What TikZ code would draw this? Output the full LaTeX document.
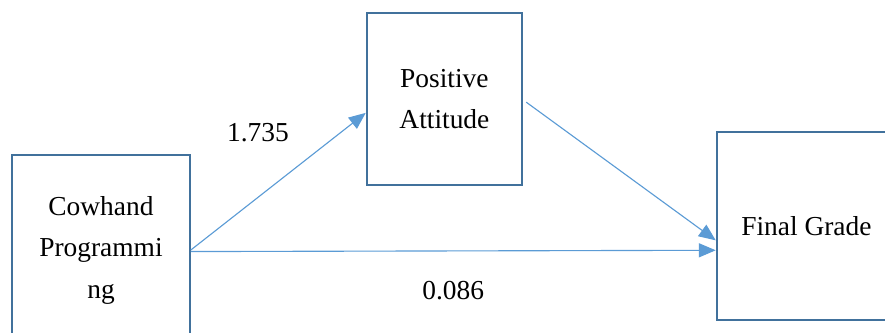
\documentclass[tikz,border=0pt]{standalone}
\usepackage{fontspec}
\setmainfont{Liberation Serif}
\usepackage{xcolor}
\definecolor{boxEdge}  {HTML}{41719C}
\definecolor{arrowLine}{HTML}{5B9BD5}
\usetikzlibrary{arrows.meta, positioning, calc}

\begin{document}
\begin{tikzpicture}[
    every node/.style={font=\fontsize{19.5}{29.5}\selectfont},
    var/.style={draw=boxEdge, line width=1.5pt, rectangle, align=center,
                inner sep=0pt},
    coef/.style={inner sep=0pt},
    path/.style={-{Triangle[length=12pt, width=10pt]}, arrowLine, line width=0.8pt}
]
\useasboundingbox (0,0) rectangle (22.125,8.325);
% Variables
\node[var, minimum width=4.44cm, minimum height=4.75cm] (cp) at (2.525, 2.075)
    {Cowhand\\Programmi\\ng};
\node[var, minimum width=3.88cm, minimum height=4.3cm] (pa) at (11.11, 5.85)
    {Positive\\Attitude};
\node[var, minimum width=4.48cm, minimum height=4.7cm] (fg) at (20.16, 2.675)
    {Final Grade};
% Paths
\draw[path] (cp.east) -- (pa.190);
\draw[path] (cp.-1) -- (fg.195);
\draw[path] ($(pa.east)+(0.08,-0.08)$) -- (fg.189);
% Coefficients
\node[coef] (ca) at (6.45, 5.0) {1.735};
\node[coef] (cb) at (11.33, 1.05) {0.086};
\end{tikzpicture}
\end{document}
